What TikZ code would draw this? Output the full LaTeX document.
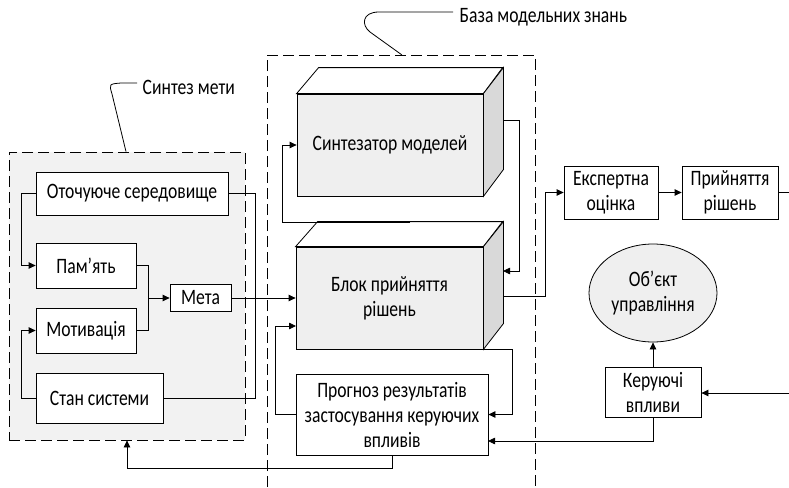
\documentclass[tikz,border=0pt]{standalone}
\usepackage{fontspec}
\setmainfont[FakeStretch=0.8]{Carlito}
\usetikzlibrary{arrows.meta,shapes.geometric,calc}
\definecolor{panelgray}{HTML}{F2F2F2}
\definecolor{frontgray}{HTML}{EFEFEF}
\definecolor{sidegray}{HTML}{D9D9D9}
\begin{document}
\begin{tikzpicture}[x=1pt,y=-1pt,
  font=\fontsize{22}{25}\selectfont,
  line width=0.8pt,
  arr/.style={-{Triangle[length=7pt,width=6.5pt]}},
  box/.style={draw,fill=white,rectangle,inner sep=1pt,align=center},
  block3d/.style={draw,fill=frontgray,rectangle,inner sep=1pt,align=center},
  groupline/.style={dashed,dash pattern=on 11pt off 5pt,line width=0.8pt}
]
\useasboundingbox (0,0) rectangle (789,487);

% --- goal synthesis group ---
\node[groupline,draw,fill=panelgray,minimum width=236pt,minimum height=288pt] (goal) at (127,296) {};
\draw (goal.north -| 126,0) -- (112,94) .. controls (109,84) .. (121,83) -- (137,83);
\node[anchor=west] (goallbl) at (139,87) {Синтез мети};

\node[box,minimum width=192pt,minimum height=43pt] (env) at (132,193.5) {Оточуюче середовище};
\node[box,minimum width=100pt,minimum height=45pt] (mem) at (86,265.5) {Пам’ять};
\node[box,minimum width=100pt,minimum height=45pt] (motiv) at (86,330.5) {Мотивація};
\node[box,minimum width=127pt,minimum height=50pt] (state) at (99.5,398) {Стан системи};
\node[box,minimum width=61pt,minimum height=27pt] (goalnode) at (200.5,298) {Мета};

\draw[arr] (env.west) -- ++(-14,0) |- (mem.west);
\draw[arr] (state.west) -- ++(-14,0) |- (motiv.west);
\draw (env.east) -- ++(27,0) |- (state.east);
\coordinate (join) at (148,298);
\draw (mem.east) -| (join);
\draw (motiv.east) -| (join);
\draw[arr] (join) -- (goalnode.west);

% --- model knowledge base group ---
\coordinate (kbBL) at (267,487);
\coordinate (kbTL) at (267,55);
\coordinate (kbTR) at (535,55);
\coordinate (kbBR) at (535,487);
\draw[groupline] (kbBL) -- (kbTL) -- (kbTR) -- (kbBR);
\draw (402,55) -- (370,32) .. controls (361,25) and (362,12) .. (379,12) -- (453,12);
\node[anchor=west] (kblbl) at (456,17) {База модельних знань};

% model synthesizer (3D block)
\node[block3d,minimum width=186pt,minimum height=102pt] (synth) at (390,145) {Синтезатор моделей};
\draw[fill=white] (synth.north west) -- ++(22,-26) -- ++(184,0) -- (synth.north east) -- cycle;
\draw[fill=sidegray] (synth.north east) -- ++(20,-26) -- ++(0,102) -- (synth.south east) -- cycle;

% decision block (3D block)
\node[block3d,minimum width=187pt,minimum height=102pt] (dec) at (389.5,298) {Блок прийняття\\рішень};
\draw[fill=white] (dec.north west) -- ++(22,-25) -- ++(185,0) -- (dec.north east) -- cycle;
\draw[fill=sidegray] (dec.north east) -- ++(20,-25) -- ++(0,102) -- (dec.south east) -- cycle;

\node[box,minimum width=192pt,minimum height=81pt] (forecast) at (392,414.5) {Прогноз результатів\\застосування керуючих\\впливів};

\coordinate (synthOut) at (503,120);
\coordinate (decInTop) at (503,271);
\coordinate (decOut) at (503,296);
\coordinate (decTop) at (410,222);
\coordinate (decInLow) at (296,326);
\coordinate (foreInLow) at (488,441);

\draw[arr] (goalnode.east) -- (goalnode.east -| dec.west);
\draw[arr] (synthOut) -- ++(16,0) |- (decInTop);
\draw[arr] (decTop) -- (282,222) |- (synth.west);
\draw[arr] (forecast.west) -- ++(-20,0) |- (decInLow);
\draw[arr] (dec.south east) -- ++(29,0) |- (forecast.east);
\draw[arr] (forecast.south) -- ++(0,13) -| (goal.south);

% --- right part ---
\node[box,minimum width=94pt,minimum height=53pt] (expert) at (611,192.5) {Експертна\\оцінка};
\node[box,minimum width=96pt,minimum height=53pt] (accept) at (730,192.5) {Прийняття\\рішень};
\node[draw,ellipse,fill=frontgray,minimum width=128pt,minimum height=98pt,align=center,inner sep=0pt] (object) at (653,293) {Об’єкт\\управління};
\node[box,minimum width=96pt,minimum height=50pt] (control) at (653,392) {Керуючі\\впливи};

\coordinate (rightOut) at (789,192.5);
\coordinate (rightIn) at (789,393);

\draw[arr] (decOut) -- (545,296) |- (expert.west);
\draw[arr] (expert.east) -- (accept.west);
\draw (accept.east) -- (rightOut);
\draw[arr] (rightIn) -- (control.east |- rightIn);
\draw[arr] (control.north) -- (object.south);
\draw[arr] (control.south) |- (foreInLow);
\end{tikzpicture}
\end{document}
